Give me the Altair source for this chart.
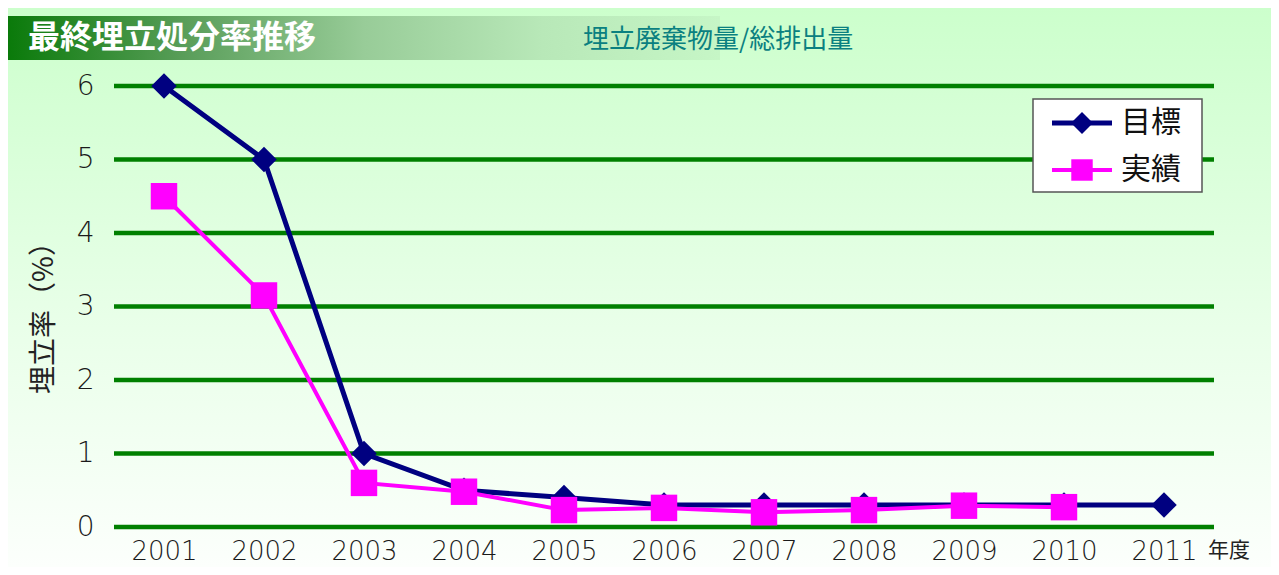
import altair as alt
import pandas as pd

years = ["2001", "2002", "2003", "2004", "2005", "2006", "2007", "2008", "2009", "2010", "2011"]
target = [6, 5, 1, 0.5, 0.4, 0.3, 0.3, 0.3, 0.3, 0.3, 0.3]
actual = [4.5, 3.15, 0.6, 0.48, 0.23, 0.26, 0.2, 0.23, 0.29, 0.27]
y_ticks = [0, 1, 2, 3, 4, 5, 6]

title_text = "最終埋立処分率推移"
subtitle_text = "埋立廃棄物量/総排出量"
y_title = "埋立率（%）"
x_unit = "年度"
legend_names = ["目標", "実績"]

NAVY = "#000080"
MAGENTA = "#ff00ff"
GREEN = "#008000"
CJK = "Noto Sans CJK JP"
NUM = "DejaVu Sans"

df_t = pd.DataFrame({"year": years, "value": target})
df_a = pd.DataFrame({"year": years[: len(actual)], "value": actual})
df_grid = pd.DataFrame({"value": y_ticks})
one = pd.DataFrame({"a": [0]})

W, H = 1100, 441

x_scale = alt.Scale(type="point", domain=years, padding=0.5)
y_scale = alt.Scale(domain=[0, 6], nice=False, zero=True)

x_enc = alt.X(
    "year:O",
    scale=x_scale,
    axis=alt.Axis(
        title=None, labelAngle=0, domain=False, ticks=False, grid=False, zindex=1,
        labelFont=NUM, labelFontSize=26, labelFontWeight=200, labelColor="#1a1a1a", labelPadding=11,
    ),
)
y_axis = alt.Axis(
    title=None, values=y_ticks, domain=False, ticks=False, grid=False, zindex=1,
    labelFont=NUM, labelFontSize=28, labelFontWeight=200, labelColor="#1a1a1a", labelPadding=20,
)
y_enc = alt.Y("value:Q", scale=y_scale, axis=y_axis)

bg = alt.Chart(one).mark_rect(
    color={"gradient": "linear", "x1": 0, "x2": 0, "y1": 0, "y2": 1,
           "stops": [{"offset": 0, "color": "#ccffcc"},
                     {"offset": 0.55, "color": "#e8ffe8"},
                     {"offset": 1, "color": "#fcfffc"}]}
).encode(x=alt.value(-106), x2=alt.value(1157), y=alt.value(-78), y2=alt.value(481))

bar = alt.Chart(one).mark_rect(
    color={"gradient": "linear", "x1": 0, "x2": 1, "y1": 0, "y2": 0,
           "stops": [{"offset": 0, "color": "#0a7a0a"},
                     {"offset": 0.25, "color": "#5a9e5a"},
                     {"offset": 0.5, "color": "#98cc98"},
                     {"offset": 0.75, "color": "#b8e8b8"},
                     {"offset": 1, "color": "#c6f6c6"}]}
).encode(x=alt.value(-106), x2=alt.value(606), y=alt.value(-70), y2=alt.value(-26))

title = alt.Chart(one).mark_text(
    text=title_text, font=CJK, fontSize=32, fontWeight="bold", color="white",
    align="left", baseline="middle",
).encode(x=alt.value(-86), y=alt.value(-48))

subtitle = alt.Chart(one).mark_text(
    text=subtitle_text, font=CJK, fontSize=26, color="#0a8080",
    align="left", baseline="middle",
).encode(x=alt.value(469), y=alt.value(-46))

grid = alt.Chart(df_grid).mark_rule(color=GREEN, strokeWidth=4.5).encode(
    y=y_enc,
    x=alt.value(0), x2=alt.value(W),
)

line_t = alt.Chart(df_t).mark_line(
    color=NAVY, strokeWidth=5,
    point=alt.OverlayMarkDef(shape="diamond", size=650, filled=True, color=NAVY, opacity=1),
).encode(x=x_enc, y=y_enc)

line_a = alt.Chart(df_a).mark_line(
    color=MAGENTA, strokeWidth=4,
    point=alt.OverlayMarkDef(shape="square", size=700, filled=True, color=MAGENTA, opacity=1),
).encode(x=x_enc, y=y_enc)

leg_box = alt.Chart(one).mark_rect(fill="white", stroke="#555555", strokeWidth=1.5).encode(
    x=alt.value(919), x2=alt.value(1088), y=alt.value(13), y2=alt.value(106))
leg_l1 = alt.Chart(one).mark_rule(color=NAVY, strokeWidth=5).encode(
    x=alt.value(938), x2=alt.value(998), y=alt.value(37))
leg_l2 = alt.Chart(one).mark_rule(color=MAGENTA, strokeWidth=4).encode(
    x=alt.value(938), x2=alt.value(998), y=alt.value(84))
leg_p1 = alt.Chart(one).mark_point(shape="diamond", size=480, filled=True, color=NAVY, opacity=1).encode(
    x=alt.value(968), y=alt.value(37))
leg_p2 = alt.Chart(one).mark_point(shape="square", size=460, filled=True, color=MAGENTA, opacity=1).encode(
    x=alt.value(968), y=alt.value(84))
leg_t1 = alt.Chart(one).mark_text(text=legend_names[0], font=CJK, fontSize=30, color="#111111",
                                  align="left", baseline="middle").encode(x=alt.value(1007), y=alt.value(37))
leg_t2 = alt.Chart(one).mark_text(text=legend_names[1], font=CJK, fontSize=30, color="#111111",
                                  align="left", baseline="middle").encode(x=alt.value(1007), y=alt.value(84))

unit = alt.Chart(one).mark_text(text=x_unit, font=CJK, fontSize=21, color="#222222",
                                align="left", baseline="middle").encode(x=alt.value(1094), y=alt.value(465))

ytitle = alt.Chart(one).mark_text(text=y_title, font=CJK, fontSize=28, color="#222222",
                                  align="center", baseline="middle", angle=270).encode(
    x=alt.value(-69), y=alt.value(225))

chart = alt.layer(
    bg, bar, title, subtitle, grid, line_t, line_a,
    leg_box, leg_l1, leg_l2, leg_p1, leg_p2, leg_t1, leg_t2, unit, ytitle,
).properties(
    width=W, height=H,
    autosize=alt.AutoSizeParams(type="none"),
    padding={"left": 106, "top": 78, "right": 57, "bottom": 40},
    background="white",
).configure_view(stroke=None)

chart.save("out.html", embed_options={"renderer": "svg", "actions": False})
